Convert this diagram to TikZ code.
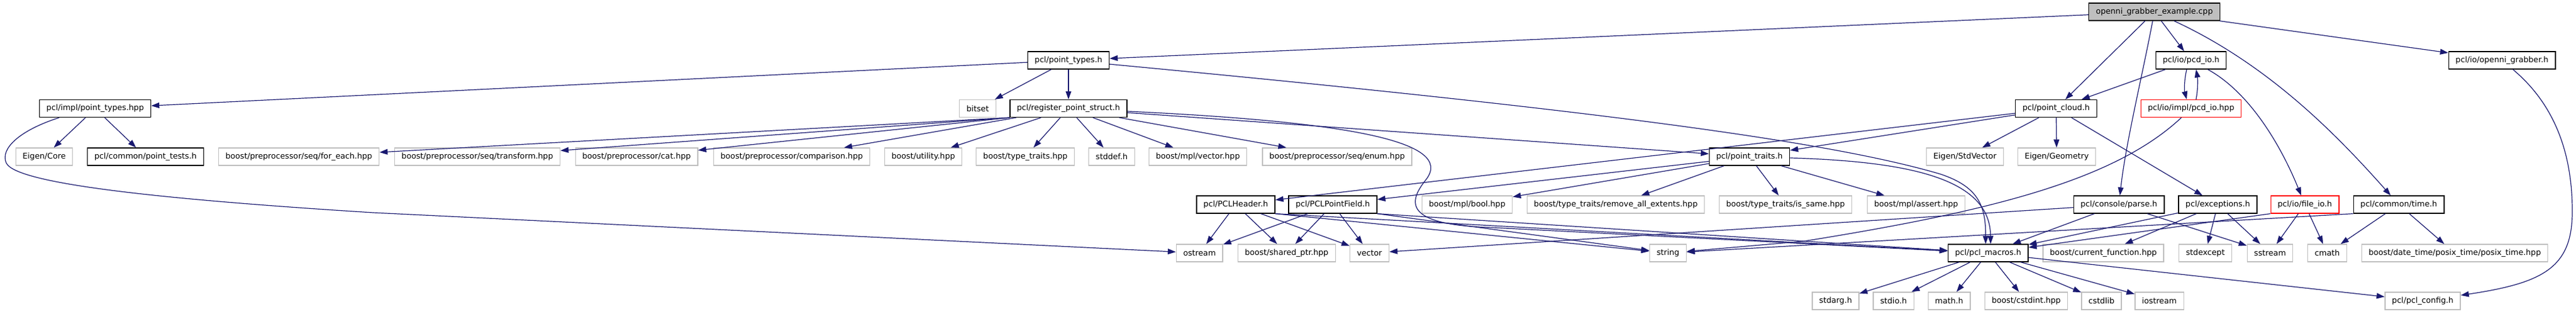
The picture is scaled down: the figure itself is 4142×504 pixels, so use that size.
\documentclass[tikz,border=0pt]{standalone}
\usepackage{fontspec}
\setmainfont{DejaVu Sans}
\usetikzlibrary{arrows.meta,calc}
\definecolor{edgeblue}{HTML}{191970}
\definecolor{sysgray}{HTML}{BFBFBF}

\begin{document}
\begin{tikzpicture}[
    x=0.5pt, y=-0.5pt,
    box/.style={draw, rectangle, minimum height=14pt, inner xsep=5.6pt, inner ysep=0pt, line width=0.65pt, fill=white, font=\fontsize{6.35pt}{7pt}\selectfont},
    sysbox/.style={box, draw=sysgray},
    pclbox/.style={box, draw=black},
    redbox/.style={box, draw=red},
    rootbox/.style={box, draw=black, fill=sysgray},
    arrow/.style={-{Triangle[length=6.5pt,width=4.5pt]}, line width=0.6pt, draw=edgeblue, fill=none}
]
% Background and bounding box
\path[fill=white, use as bounding box] (0,0) rectangle (4142,504);

% Root file
\node[rootbox] (root) at (3464,19) {openni\_grabber\_example.cpp};

% Level 2
\node[pclbox] (pttypes) at (1718,97) {pcl/point\_types.h};
\node[pclbox] (pcdioh) at (3523,97) {pcl/io/pcd\_io.h};
\node[pclbox] (grabber) at (4023,97) {pcl/io/openni\_grabber.h};

% Level 3
\node[pclbox] (ptimpl) at (153,174.5) {pcl/impl/point\_types.hpp};
\node[sysbox] (bitset) at (1572,174.5) {bitset};
\node[pclbox] (regstruct) at (1718,174.5) {pcl/register\_point\_struct.h};
\node[pclbox] (pcloud) at (3306,174.5) {pcl/point\_cloud.h};
\node[redbox] (pcdiohpp) at (3523,174.5) {pcl/io/impl/pcd\_io.hpp};

% Level 4
\node[sysbox] (eigencore) at (71,252) {Eigen/Core};
\node[pclbox] (ptests) at (234,252) {pcl/common/point\_tests.h};
\node[sysbox] (foreach) at (480.5,252) {boost/preprocessor/seq/for\_each.hpp};
\node[sysbox] (transform) at (767.5,252) {boost/preprocessor/seq/transform.hpp};
\node[sysbox] (cat) at (1023.5,252) {boost/preprocessor/cat.hpp};
\node[sysbox] (comparison) at (1273,252) {boost/preprocessor/comparison.hpp};
\node[sysbox] (utility) at (1484.6,252) {boost/utility.hpp};
\node[sysbox] (typetraits) at (1648.7,252) {boost/type\_traits.hpp};
\node[sysbox] (stddef) at (1787.5,252) {stddef.h};
\node[sysbox] (mplvector) at (1926,252) {boost/mpl/vector.hpp};
\node[sysbox] (seqenum) at (2150,252) {boost/preprocessor/seq/enum.hpp};
\node[pclbox] (ptraits) at (2813,252) {pcl/point\_traits.h};
\node[sysbox] (stdvector) at (3159.5,252) {Eigen/StdVector};
\node[sysbox] (geometry) at (3307,252) {Eigen/Geometry};

% Level 5
\node[pclbox] (pclheader) at (1987,329) {pcl/PCLHeader.h};
\node[pclbox] (pointfield) at (2143,329) {pcl/PCLPointField.h};
\node[sysbox] (mplbool) at (2359,329) {boost/mpl/bool.hpp};
\node[sysbox] (removeext) at (2598,329) {boost/type\_traits/remove\_all\_extents.hpp};
\node[sysbox] (issame) at (2871,329) {boost/type\_traits/is\_same.hpp};
\node[sysbox] (mplassert) at (3081,329) {boost/mpl/assert.hpp};
\node[pclbox] (parse) at (3407,329) {pcl/console/parse.h};
\node[pclbox] (exceptions) at (3566,329) {pcl/exceptions.h};
\node[redbox] (fileio) at (3706,329) {pcl/io/file\_io.h};
\node[pclbox] (ctime) at (3857,329) {pcl/common/time.h};

% Level 6
\node[sysbox] (ostream) at (1928.7,407) {ostream};
\node[sysbox] (sharedptr) at (2068.8,407) {boost/shared\_ptr.hpp};
\node[sysbox] (vector) at (2202,407) {vector};
\node[sysbox] (string) at (2682,407) {string};
\node[pclbox] (macros) at (3196.7,407) {pcl/pcl\_macros.h};
\node[sysbox] (curfunc) at (3382,407) {boost/current\_function.hpp};
\node[sysbox] (stdexcept) at (3546,407) {stdexcept};
\node[sysbox] (sstream) at (3650,407) {sstream};
\node[sysbox] (cmath) at (3742,407) {cmath};
\node[sysbox] (posixtime) at (3947,407) {boost/date\_time/posix\_time/posix\_time.hpp};

% Level 7
\node[sysbox] (stdarg) at (2951.5,484) {stdarg.h};
\node[sysbox] (stdio) at (3044.7,484) {stdio.h};
\node[sysbox] (math) at (3134,484) {math.h};
\node[sysbox] (cstdint) at (3258,484) {boost/cstdint.hpp};
\node[sysbox] (cstdlib) at (3379,484) {cstdlib};
\node[sysbox] (iostream) at (3472,484) {iostream};
\node[sysbox] (config) at (3895.5,484) {pcl/pcl\_config.h};

% Includes of the root file
\draw[arrow] (root) -- (pttypes);
\draw[arrow] (root) -- (pcloud);
\draw[arrow] (root) -- (pcdioh);
\draw[arrow] (root) .. controls (3445,120) and (3418,230) .. (parse);
\draw[arrow] (root) .. controls (3650,105) and (3760,220) .. (ctime);
\draw[arrow] (root) -- (grabber);

% pcl/point_types.h
\draw[arrow] (pttypes) -- (ptimpl);
\draw[arrow] (pttypes) -- (bitset);
\draw[arrow] (pttypes) -- (regstruct);
\draw[arrow] (pttypes) .. controls (2600,180) and (2950,230) .. (3120,280) .. controls (3180,300) and (3193,330) .. ($(macros.north)+(-4,0)$);

% pcl/impl/point_types.hpp
\draw[arrow] (ptimpl) -- (eigencore);
\draw[arrow] (ptimpl) -- (ptests);
\draw[arrow] ($(ptimpl.south west)!0.18!(ptimpl.south east)$) .. controls (30,210) and (0,240) .. (10,262) .. controls (25,295) and (250,320) .. (600,342) -- (ostream);

% pcl/register_point_struct.h
\draw[arrow] (regstruct.south west) -- (foreach);
\draw[arrow] (regstruct.south west) -- (transform);
\draw[arrow] (regstruct.south west) -- (cat);
\draw[arrow] (regstruct) -- (comparison);
\draw[arrow] (regstruct) -- (utility);
\draw[arrow] (regstruct) -- (typetraits);
\draw[arrow] (regstruct) -- (stddef);
\draw[arrow] (regstruct) -- (mplvector);
\draw[arrow] (regstruct) -- (seqenum);
\draw[arrow] (regstruct) -- (ptraits);
\draw[arrow] (regstruct) .. controls (2150,195) and (2345,225) .. (2292,290) .. controls (2260,330) and (2265,362) .. (2400,366) -- (macros);

% pcl/io/pcd_io.h and pcl/io/impl/pcd_io.hpp
\draw[arrow] (pcdioh) -- (pcloud);
\draw[arrow] ($(pcdioh.south)+(-7,0)$) .. controls (3512,128) and (3512,145) .. ($(pcdiohpp.north)+(-7,0)$);
\draw[arrow] ($(pcdiohpp.north)+(8,0)$) .. controls (3534,145) and (3534,128) .. ($(pcdioh.south)+(8,0)$);
\draw[arrow] (pcdioh) .. controls (3620,150) and (3670,240) .. (fileio);
\draw[arrow] (pcdiohpp) .. controls (3400,290) and (3200,340) .. (2900,388) -- (string);

% pcl/io/openni_grabber.h
\draw[arrow] (grabber) .. controls (4110,170) and (4136,250) .. (4136,340) .. controls (4136,430) and (4090,455) .. (config);

% pcl/point_cloud.h
\draw[arrow] (pcloud) -- (pclheader);
\draw[arrow] (pcloud) -- (ptraits);
\draw[arrow] (pcloud) -- (stdvector);
\draw[arrow] (pcloud) -- (geometry);
\draw[arrow] (pcloud) -- (exceptions);

% pcl/point_traits.h
\draw[arrow] (ptraits) -- (pointfield);
\draw[arrow] (ptraits) -- (mplbool);
\draw[arrow] (ptraits) -- (removeext);
\draw[arrow] (ptraits) -- (issame);
\draw[arrow] (ptraits) -- (mplassert);
\draw[arrow] (ptraits) .. controls (3080,260) and (3200,290) .. ($(macros.north)+(4,0)$);

% pcl/PCLHeader.h and pcl/PCLPointField.h
\draw[arrow] (pclheader) -- (ostream);
\draw[arrow] (pclheader) -- (sharedptr);
\draw[arrow] (pclheader) -- (vector);
\draw[arrow] (pclheader.south east) -- (string);
\draw[arrow] (pclheader.south east) -- (macros);
\draw[arrow] (pointfield) -- (ostream);
\draw[arrow] (pointfield) -- (sharedptr);
\draw[arrow] (pointfield) -- (vector);
\draw[arrow] (pointfield.south east) -- (string);
\draw[arrow] (pointfield.south east) -- (macros);

% pcl/console/parse.h
\draw[arrow] (parse) -- (vector);
\draw[arrow] (parse) -- (sstream);
\draw[arrow] (parse) -- (macros);

% pcl/exceptions.h
\draw[arrow] (exceptions) -- (stdexcept);
\draw[arrow] (exceptions) -- (sstream);
\draw[arrow] (exceptions) -- (curfunc);
\draw[arrow] (exceptions) -- (macros);

% pcl/io/file_io.h
\draw[arrow] (fileio) -- (sstream);
\draw[arrow] (fileio) -- (cmath);
\draw[arrow] (fileio.south west) -- (macros);

% pcl/common/time.h
\draw[arrow] (ctime) -- (cmath);
\draw[arrow] (ctime) -- (posixtime);
\draw[arrow] (ctime.south west) -- (string);

% pcl/pcl_macros.h
\draw[arrow] (macros) -- (stdarg);
\draw[arrow] (macros) -- (stdio);
\draw[arrow] (macros) -- (math);
\draw[arrow] (macros) -- (cstdint);
\draw[arrow] (macros) -- (cstdlib);
\draw[arrow] (macros) -- (iostream);
\draw[arrow] (macros) -- (config);
\end{tikzpicture}
\end{document}
